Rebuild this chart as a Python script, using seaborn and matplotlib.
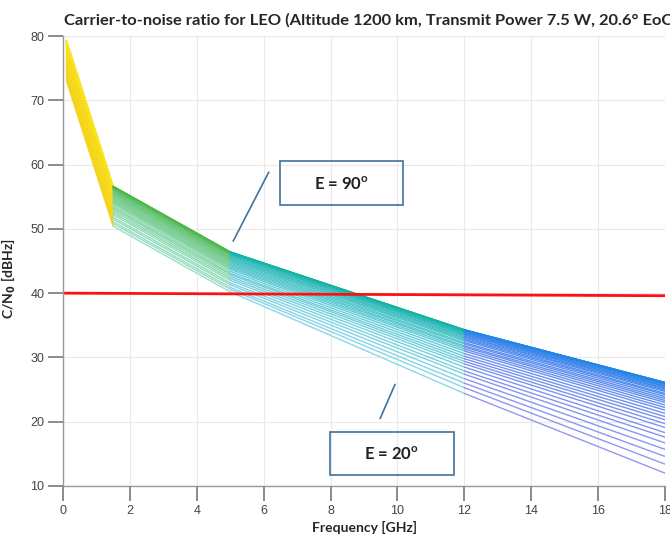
import numpy as np
import pandas as pd
import matplotlib
matplotlib.use('Agg')
import matplotlib.pyplot as plt
from matplotlib.colors import to_rgb
from matplotlib.patches import Rectangle
import seaborn as sns

# elevation angles of the individual curves (deg)
elevations = [20, 22, 24, 26, 28, 30, 32, 34, 36, 38, 40, 42, 44, 46, 48, 50, 52, 54,
              56, 58, 60, 62, 64, 66, 68, 70, 72, 74, 76, 78, 80, 82, 84, 86, 88, 90]

# frequency nodes (GHz) where the band segments start/end
freq_nodes = [0.1, 1.5, 5, 12, 18]

# C/N0 (dBHz) at each frequency node, one value per elevation
cn0_0p1 = [73.1, 73.5, 73.8, 74.2, 74.5, 74.9, 75.2, 75.5, 75.8, 76.0, 76.3, 76.6,
           76.8, 77.0, 77.2, 77.4, 77.6, 77.8, 78.0, 78.1, 78.3, 78.4, 78.5, 78.7,
           78.8, 78.9, 78.9, 79.0, 79.1, 79.1, 79.2, 79.2, 79.3, 79.3, 79.3, 79.3]
cn0_1p5 = [50.4, 50.8, 51.1, 51.5, 51.8, 52.2, 52.5, 52.8, 53.1, 53.3, 53.6, 53.9,
           54.1, 54.3, 54.5, 54.7, 54.9, 55.1, 55.3, 55.4, 55.6, 55.7, 55.8, 56.0,
           56.1, 56.2, 56.2, 56.3, 56.4, 56.4, 56.5, 56.5, 56.6, 56.6, 56.6, 56.6]
cn0_5 = [40.2, 40.6, 40.9, 41.3, 41.6, 42.0, 42.3, 42.6, 42.9, 43.1, 43.4, 43.7,
         43.9, 44.1, 44.3, 44.5, 44.7, 44.9, 45.1, 45.2, 45.4, 45.5, 45.6, 45.8,
         45.9, 46.0, 46.0, 46.1, 46.2, 46.2, 46.3, 46.3, 46.4, 46.4, 46.4, 46.4]
cn0_12 = [24.4, 25.3, 26.0, 26.7, 27.4, 27.9, 28.5, 29.0, 29.4, 29.8, 30.2, 30.6,
          31.0, 31.3, 31.6, 31.8, 32.1, 32.3, 32.6, 32.8, 33.0, 33.2, 33.3, 33.5,
          33.6, 33.7, 33.8, 33.9, 34.0, 34.1, 34.2, 34.2, 34.2, 34.3, 34.3, 34.3]
cn0_18 = [12.0, 13.4, 14.6, 15.7, 16.7, 17.6, 18.3, 19.1, 19.7, 20.3, 20.8, 21.3,
          21.8, 22.2, 22.6, 23.0, 23.3, 23.6, 23.9, 24.2, 24.4, 24.7, 24.9, 25.1,
          25.2, 25.4, 25.5, 25.6, 25.8, 25.8, 25.9, 26.0, 26.0, 26.1, 26.1, 26.1]

# C/N0 threshold line
threshold_freq = [0, 18]
threshold_cn0 = [40.0, 39.6]

x_ticks = [0, 2, 4, 6, 8, 10, 12, 14, 16, 18]
y_ticks = [10, 20, 30, 40, 50, 60, 70, 80]

# (color at E=90, color at E=20) for each band segment
band_colors = [('#f9e71e', '#f5d21c'),
               ('#4cb74a', '#9adfc8'),
               ('#12b3a6', '#8ad6ea'),
               ('#1f85e8', '#9497f2')]

node_values = [cn0_0p1, cn0_1p5, cn0_5, cn0_12, cn0_18]

sns.set_theme(style='ticks', rc={
    'axes.grid': True, 'grid.color': '#e9e9e9', 'grid.linewidth': 0.8,
    'xtick.major.size': 10.5, 'ytick.major.size': 10.5,
    'xtick.major.width': 1.3, 'ytick.major.width': 1.3,
    'xtick.color': '#8c8c8c', 'ytick.color': '#8c8c8c',
    'xtick.labelcolor': '#444444', 'ytick.labelcolor': '#444444',
    'xtick.major.pad': 3, 'ytick.major.pad': 3,
    'axes.edgecolor': '#999999',
})
plt.rcParams['font.family'] = ['Liberation Sans', 'DejaVu Sans']

fig = plt.figure(figsize=(6.7, 5.41), dpi=100)
ax = fig.add_axes([63 / 670, 1 - 486 / 541, 602 / 670, 450 / 541])

for b in range(len(freq_nodes) - 1):
    rows = []
    for j, e in enumerate(elevations):
        rows.append({'freq': freq_nodes[b], 'cn0': node_values[b][j], 'elev': e})
        rows.append({'freq': freq_nodes[b + 1], 'cn0': node_values[b + 1][j], 'elev': e})
    df = pd.DataFrame(rows)
    top, bot = np.array(to_rgb(band_colors[b][0])), np.array(to_rgb(band_colors[b][1]))
    pal = {}
    for j, e in enumerate(elevations):
        t = j / (len(elevations) - 1)
        pal[e] = tuple(bot * (1 - t) + top * t)
    sns.lineplot(data=df, x='freq', y='cn0', hue='elev', palette=pal, legend=False,
                 estimator=None, sort=False, lw=1.0, ax=ax)

sns.lineplot(x=threshold_freq, y=threshold_cn0, color='#ff1010', lw=2.0, ax=ax)

ax.set_xlim(0, 18)
ax.set_ylim(10, 80)
ax.set_xticks(x_ticks)
ax.set_yticks(y_ticks)
sns.despine(ax=ax)
for s in ['left', 'bottom']:
    ax.spines[s].set_linewidth(1.0)
ax.tick_params(axis='both', labelsize=9)

# outward tick marks drawn explicitly so they show up for sure
ax.vlines(x_ticks, -15 / 450, 0, transform=ax.get_xaxis_transform(),
          colors='#8c8c8c', lw=1.3, clip_on=False, zorder=6)
ax.hlines(y_ticks, -15 / 602, 0, transform=ax.get_yaxis_transform(),
          colors='#8c8c8c', lw=1.3, clip_on=False, zorder=6)

ax.set_xlabel('Frequency [GHz]', fontweight='bold', fontsize=10, family='Lato')
ax.xaxis.set_label_coords(0.5, -0.078)
ax.set_ylabel('C/N$_\\mathbf{0}$ [dBHz]', fontweight='bold', fontsize=10, family='Lato')
ax.yaxis.set_label_coords(-0.075, 0.46)

fig.text(64 / 670, 1 - 25 / 541,
         'Carrier-to-noise ratio for LEO (Altitude 1200 km, Transmit Power 7.5 W, 20.6\u00b0 EoC)',
         fontweight='bold', fontsize=11.85, family='Lato', va='baseline', ha='left')

# annotation boxes
box_kw = dict(fill=False, edgecolor='#41719c', lw=1.2, clip_on=False, zorder=5)
ax.add_patch(Rectangle((6.49, 53.65), 3.68, 6.85, **box_kw))
ax.add_patch(Rectangle((7.98, 11.7), 3.71, 6.7, **box_kw))
ax.text(8.33, 57.0, 'E = 90$^{\\mathregular{o}}$', ha='center', va='center',
        fontweight='bold', fontsize=12, family='Lato', color='#222222')
ax.text(9.83, 15.0, 'E = 20$^{\\mathregular{o}}$', ha='center', va='center',
        fontweight='bold', fontsize=12, family='Lato', color='#222222')
ax.annotate('', xy=(5.05, 47.7), xytext=(6.19, 59.2),
            arrowprops=dict(arrowstyle='-', color='#41719c', lw=1.2))
ax.annotate('', xy=(9.45, 20.1), xytext=(9.96, 26.2),
            arrowprops=dict(arrowstyle='-', color='#41719c', lw=1.2))

fig.savefig('out.png', dpi=100)
